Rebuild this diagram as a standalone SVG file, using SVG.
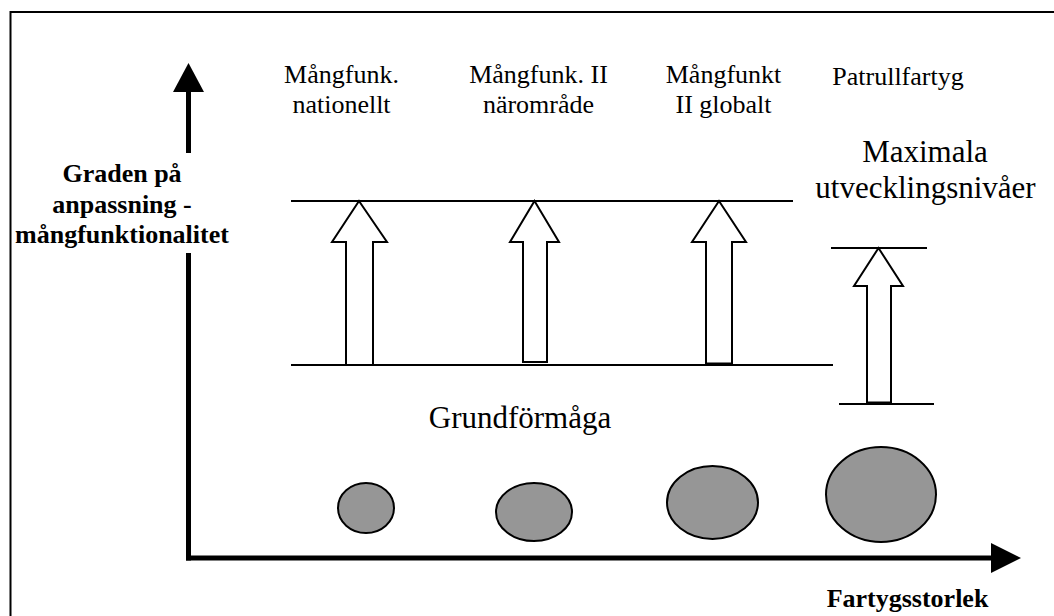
<svg xmlns="http://www.w3.org/2000/svg" width="1054" height="616" viewBox="0 0 1054 616">
  <style>
    .lbl { font-family: "Liberation Serif", "Times New Roman", serif; font-size: 26px; fill: #000; text-anchor: middle; }
    .big { font-family: "Liberation Serif", "Times New Roman", serif; font-size: 31px; fill: #000; text-anchor: middle; }
    .bold { font-family: "Liberation Serif", "Times New Roman", serif; font-size: 26px; font-weight: bold; fill: #000; text-anchor: middle; }
    .level { stroke: #000; stroke-width: 2; fill: none; }
    .blk { fill: #fff; stroke: #000; stroke-width: 2; stroke-linejoin: miter; }
    .ship { fill: #969696; stroke: #000; stroke-width: 2; }
    .axis { stroke: #000; stroke-width: 5; fill: none; }
  </style>
  <rect x="0" y="0" width="1054" height="616" fill="#fff"/>
  <rect id="frame" x="10.5" y="12" width="1200" height="800" fill="none" stroke="#000" stroke-width="2"/>

  <g id="connectors">
    <line class="axis" x1="188.5" y1="90" x2="188.5" y2="153"/>
    <line class="axis" x1="188.5" y1="253" x2="188.5" y2="560.5"/>
    <polygon points="188.5,63 173,92 204,92" fill="#000"/>
    <line class="axis" x1="186" y1="558" x2="993" y2="558"/>
    <polygon points="1021,558 991,543 991,573" fill="#000"/>
  </g>

  <g id="levels">
    <line class="level" x1="291" y1="201" x2="793" y2="201"/>
    <line class="level" x1="291" y1="365" x2="833" y2="365"/>
    <line class="level" x1="831" y1="248" x2="927" y2="248"/>
    <line class="level" x1="839" y1="404" x2="934" y2="404"/>
  </g>

  <g id="arrow1">
    <polygon class="blk" points="359,201 387,242 373,242 373,365 346,365 346,242 332,242"/>
  </g>
  <g id="arrow2">
    <polygon class="blk" points="534.5,201 559,242 547,242 547,362 523,362 523,242 510,242"/>
  </g>
  <g id="arrow3">
    <polygon class="blk" points="719,201 746,242 732,242 732,363.5 706,363.5 706,242 692,242"/>
  </g>
  <g id="arrow4">
    <polygon class="blk" points="878.5,248 903,286 891,286 891,402.5 867,402.5 867,286 854,286"/>
  </g>

  <g id="ship1"><ellipse class="ship" cx="366" cy="508" rx="28" ry="25"/></g>
  <g id="ship2"><ellipse class="ship" cx="534" cy="512" rx="38" ry="29"/></g>
  <g id="ship3"><ellipse class="ship" cx="712.5" cy="502.5" rx="45.5" ry="36.5"/></g>
  <g id="ship4"><ellipse class="ship" cx="881" cy="494.5" rx="55" ry="47.5"/></g>

  <g id="label-nationellt">
    <text class="lbl" x="341.5" y="83">Mångfunk.</text>
    <text class="lbl" x="341.5" y="113">nationellt</text>
  </g>
  <g id="label-naromrade">
    <text class="lbl" x="538.5" y="83">Mångfunk. II</text>
    <text class="lbl" x="538.5" y="113">närområde</text>
  </g>
  <g id="label-globalt">
    <text class="lbl" x="723.5" y="83">Mångfunkt</text>
    <text class="lbl" x="723.5" y="113">II globalt</text>
  </g>
  <g id="label-patrull">
    <text class="lbl" x="898" y="85">Patrullfartyg</text>
  </g>
  <g id="label-maximala">
    <text class="big" x="925" y="162">Maximala</text>
    <text class="big" x="925.5" y="198">utvecklingsnivåer</text>
  </g>
  <g id="label-grund">
    <text class="big" x="520" y="428">Grundförmåga</text>
  </g>
  <g id="label-yaxis">
    <text class="bold" x="122" y="182">Graden på</text>
    <text class="bold" x="122" y="213">anpassning -</text>
    <text class="bold" x="122" y="243">mångfunktionalitet</text>
  </g>
  <g id="label-xaxis">
    <text class="bold" x="907.5" y="607">Fartygsstorlek</text>
  </g>
</svg>
